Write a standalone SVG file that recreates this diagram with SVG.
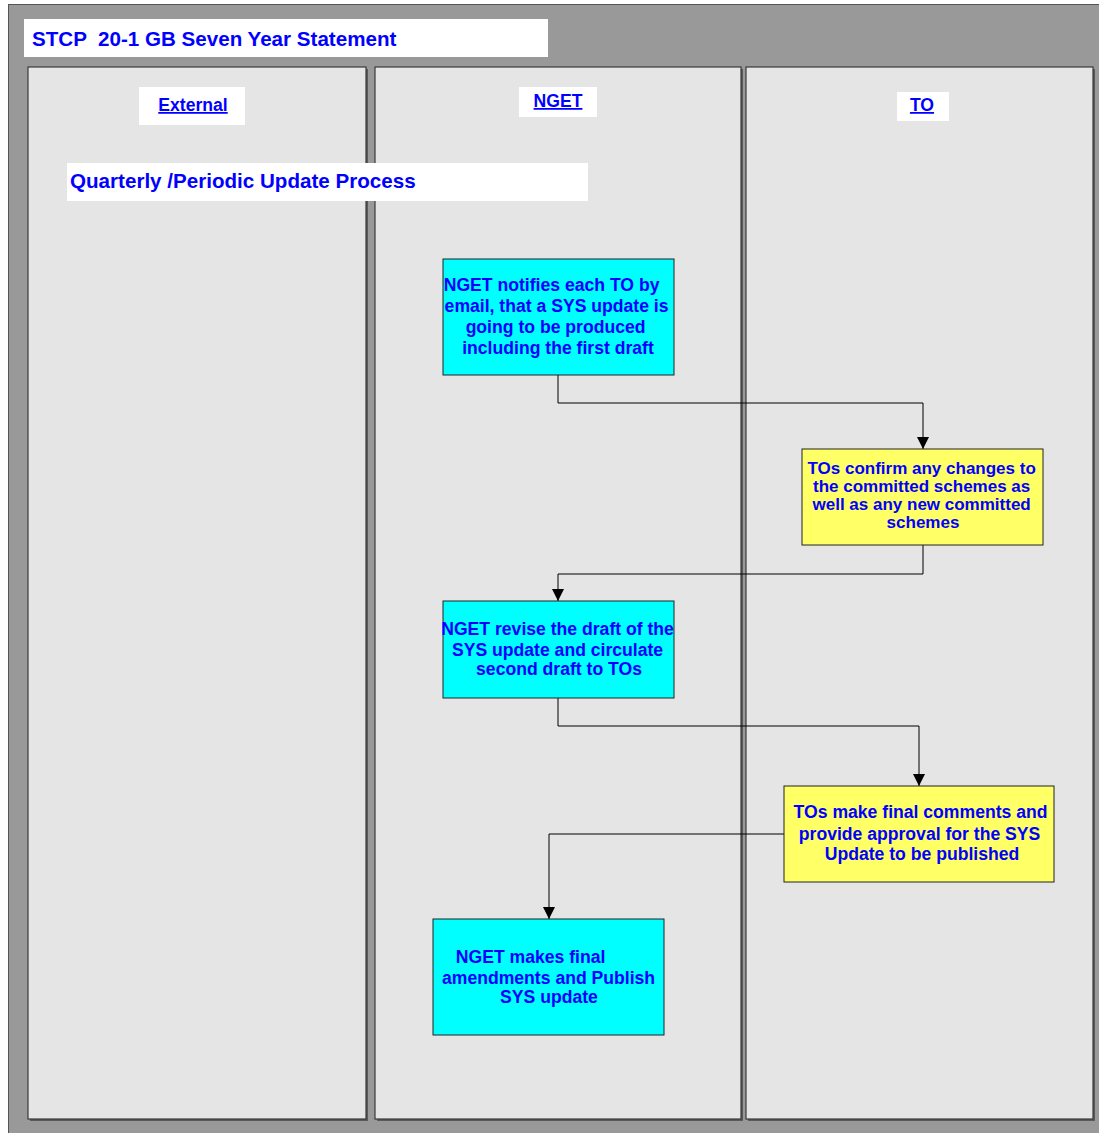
<svg xmlns="http://www.w3.org/2000/svg" width="1099" height="1133" viewBox="0 0 1099 1133">
<style>
.t{font-family:"Liberation Sans",Arial,sans-serif;font-weight:bold;fill:#0000ff}
.lane{fill:#e5e5e5;stroke:#3a3a3a;stroke-width:1.2}
.sh{fill:#5a5a5a}
.lbl{fill:#ffffff}
.cy{fill:#00ffff;stroke:#222;stroke-width:1}
.ye{fill:#ffff66;stroke:#222;stroke-width:1}
.c{fill:none;stroke:#000;stroke-width:1}
</style>
<defs>
<marker id="ah" viewBox="0 0 12 12" refX="12" refY="6" markerWidth="13" markerHeight="12" markerUnits="userSpaceOnUse" orient="auto">
<path d="M0,0 L12,6 L0,12 z" fill="#000"/>
</marker>
</defs>
<rect x="0" y="0" width="1099" height="1133" fill="#ffffff"/>
<rect x="8.5" y="4.5" width="1095" height="1135" fill="#999999" stroke="#555" stroke-width="1"/>
<g id="lanes">
<rect class="sh" x="30" y="69" width="338" height="1052"/>
<rect class="lane" x="28" y="67" width="338" height="1052"/>
<rect class="sh" x="377" y="69" width="366" height="1052"/>
<rect class="lane" x="375" y="67" width="366" height="1052"/>
<rect class="sh" x="748" y="69" width="347" height="1052"/>
<rect class="lane" x="746" y="67" width="347" height="1052"/>
</g>
<g id="title">
<rect class="lbl" x="24" y="19" width="524" height="38"/>
<text class="t" x="32" y="46" font-size="20.6" xml:space="preserve">STCP  20-1 GB Seven Year Statement</text>
</g>
<g id="lane-external">
<rect class="lbl" x="139" y="87" width="106" height="38"/>
<text class="t" x="193" y="111" font-size="17.6" text-anchor="middle" text-decoration="underline">External</text>
</g>
<g id="lane-nget">
<rect class="lbl" x="519" y="87" width="78" height="30"/>
<text class="t" x="558" y="107" font-size="17.6" text-anchor="middle" text-decoration="underline">NGET</text>
</g>
<g id="lane-to">
<rect class="lbl" x="897" y="92" width="52" height="29"/>
<text class="t" x="922" y="111" font-size="17.6" text-anchor="middle" text-decoration="underline">TO</text>
</g>
<g id="subtitle">
<rect class="lbl" x="67" y="163" width="521" height="38"/>
<text class="t" x="70" y="188" font-size="20.6">Quarterly /Periodic Update Process</text>
</g>
<g id="connectors">
<polyline class="c" points="558,375 558,403 923,403 923,449" marker-end="url(#ah)"/>
<polyline class="c" points="923,545 923,574 558,574 558,601" marker-end="url(#ah)"/>
<polyline class="c" points="558,698 558,726 919,726 919,786" marker-end="url(#ah)"/>
<polyline class="c" points="784,834 549,834 549,919" marker-end="url(#ah)"/>
</g>
<g id="n1">
<rect class="cy" x="443" y="259" width="231" height="116"/>
<text class="t" font-size="17.6" text-anchor="middle">
<tspan x="554" y="291">NGET notifies each TO by</tspan>
<tspan x="559" y="312">email, that a SYS update is</tspan>
<tspan x="558" y="333">going to be produced</tspan>
<tspan x="558" y="354">including the first draft</tspan>
</text>
</g>
<g id="n2">
<rect class="ye" x="802" y="449" width="241" height="96"/>
<text class="t" font-size="17" text-anchor="middle">
<tspan x="924" y="474">TOs confirm any changes to</tspan>
<tspan x="924" y="492">the committed schemes as</tspan>
<tspan x="924" y="510">well as any new committed</tspan>
<tspan x="923" y="528">schemes</tspan>
</text>
</g>
<g id="n3">
<rect class="cy" x="443" y="601" width="231" height="97"/>
<text class="t" font-size="17.6" text-anchor="middle">
<tspan x="560" y="635">NGET revise the draft of the</tspan>
<tspan x="560" y="656">SYS update and circulate</tspan>
<tspan x="559" y="675">second draft to TOs</tspan>
</text>
</g>
<g id="n4">
<rect class="ye" x="784" y="786" width="270" height="96"/>
<text class="t" font-size="17.6" text-anchor="middle">
<tspan x="923" y="818">TOs make final comments and</tspan>
<tspan x="922" y="840">provide approval for the SYS</tspan>
<tspan x="922" y="860">Update to be published</tspan>
</text>
</g>
<g id="n5">
<rect class="cy" x="433" y="919" width="231" height="116"/>
<text class="t" font-size="17.6" text-anchor="middle">
<tspan x="533" y="963">NGET makes final</tspan>
<tspan x="551" y="984">amendments and Publish</tspan>
<tspan x="549" y="1003">SYS update</tspan>
</text>
</g>
</svg>
